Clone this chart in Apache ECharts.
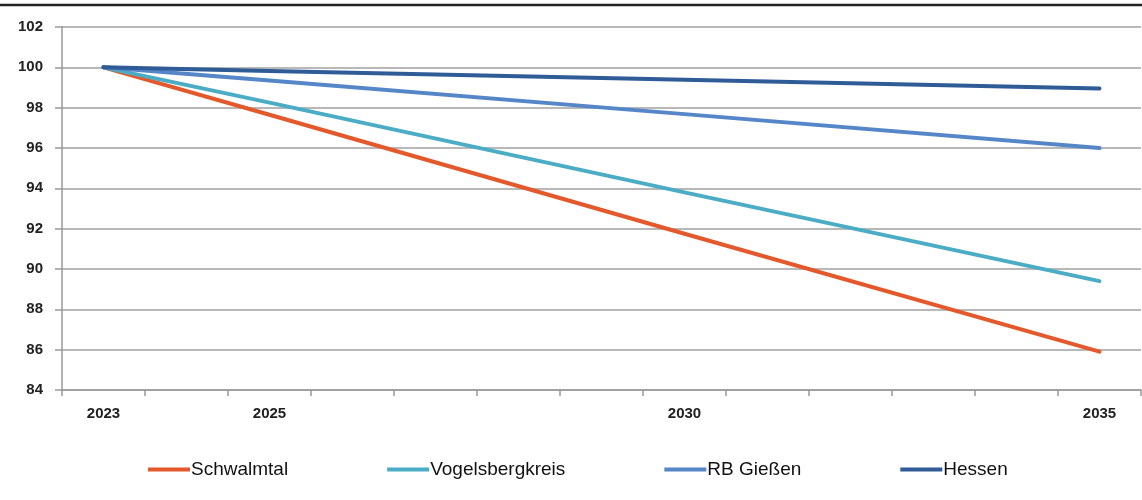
<!DOCTYPE html>
<html>
<head>
<meta charset="utf-8">
<script src="https://cdn.jsdelivr.net/npm/echarts@6/dist/echarts.min.js"></script>
<style>
html,body{margin:0;padding:0;background:#fff;}
#chart{width:1142px;height:500px;}
</style>
</head>
<body>
<div id="chart"></div>
<script>
var years = ['2023','2024','2025','2026','2027','2028','2029','2030','2031','2032','2033','2034','2035'];
var labeledYears = ['2023','2025','2030','2035'];
var seriesNames = ['Schwalmtal','Vogelsbergkreis','RB Gießen','Hessen'];
var schwalmtal = [100, null, 97.65, null, null, null, null, 91.75, null, null, null, null, 85.9];
var vogelsbergkreis = [100, null, 98.25, null, null, null, null, 93.8, null, null, null, null, 89.4];
var rbGiessen = [100, null, 99.35, null, null, null, null, 97.68, null, null, null, null, 96.0];
var hessen = [100, null, 99.82, null, null, null, null, 99.38, null, null, null, null, 98.95];
var colors = ['#E4592B', '#4BACC6', '#5586C8', '#2F5B97'];

var chart = echarts.init(document.getElementById('chart'));
var dataSets = [schwalmtal, vogelsbergkreis, rbGiessen, hessen];
var series = seriesNames.map(function(n, i){
  return {
    name: n, type: 'line', data: dataSets[i], connectNulls: true,
    showSymbol: false, symbol: 'none', smooth: false,
    lineStyle: {width: 4, color: colors[i], cap: 'round', join: 'round'},
    itemStyle: {color: colors[i]},
    emphasis: {disabled: true}
  };
});
chart.setOption({
  animation: false,
  backgroundColor: '#fff',
  color: colors,
  grid: {left: 62, right: 1, top: 27, bottom: 110, containLabel: false},
  graphic: [{
    type: 'line', shape: {x1: 0, y1: 5, x2: 1142, y2: 5},
    style: {stroke: '#222', lineWidth: 2.5}
  }],
  legend: {
    left: 143, top: 455,
    icon: 'rect', itemWidth: 42, itemHeight: 4, itemGap: 99,
    data: seriesNames,
    textStyle: {fontFamily: 'Liberation Sans, Arial, sans-serif', fontSize: 19, color: '#111', padding: [0,0,0,-4]}
  },
  xAxis: {
    type: 'category', data: years, boundaryGap: true,
    axisLine: {lineStyle: {color: '#999', width: 1.5}},
    axisTick: {show: true, interval: 0, length: 6, lineStyle: {color: '#999', width: 1.5}},
    axisLabel: {
      interval: function(idx, val){ return labeledYears.indexOf(val) >= 0; },
      margin: 16, fontFamily: 'Liberation Sans, Arial, sans-serif', fontSize: 15, fontWeight: 'bold', color: '#222'
    },
    splitLine: {show: false}
  },
  yAxis: {
    type: 'value', min: 84, max: 102, interval: 2,
    axisLine: {show: true, lineStyle: {color: '#999', width: 1.5}},
    axisTick: {show: true, length: 7, lineStyle: {color: '#999', width: 1.5}},
    axisLabel: {margin: 19, fontFamily: 'Liberation Sans, Arial, sans-serif', fontSize: 15, fontWeight: 'bold', color: '#222'},
    splitLine: {show: true, lineStyle: {color: '#a0a0a0', width: 1.5}}
  },
  series: series
});
</script>
</body>
</html>
